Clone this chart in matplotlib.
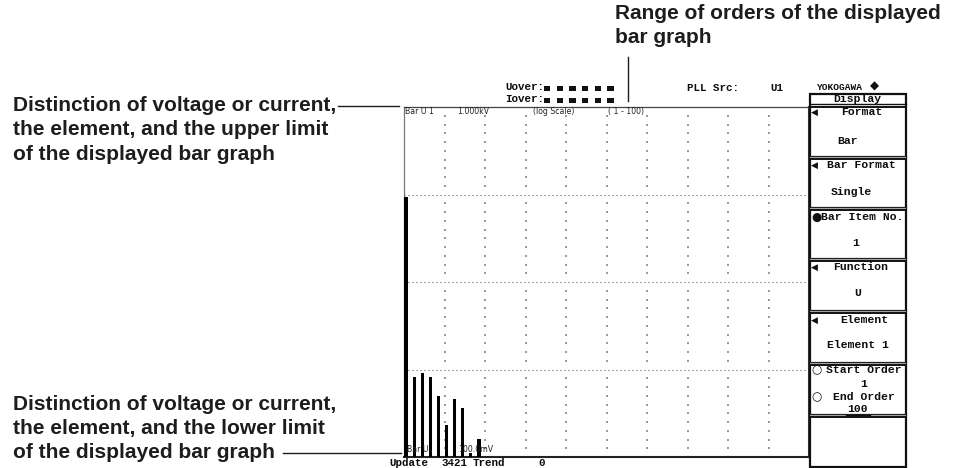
import matplotlib
matplotlib.use('Agg')
import matplotlib.pyplot as plt
from matplotlib.patches import Rectangle

# ---------------- data ----------------
orders = [1, 3, 5, 7, 9, 11, 13, 15, 17, 19]
values_v = [94.4, 0.83, 0.91, 0.82, 0.50, 0.23, 0.46, 0.36, 0.11, 0.16]
y_lower, y_upper = 0.1, 1000.0
order_start, order_end = 1, 100

upper_note = ["Distinction of voltage or current,",
              "the element, and the upper limit",
              "of the displayed bar graph"]
lower_note = ["Distinction of voltage or current,",
              "the element, and the lower limit",
              "of the displayed bar graph"]
range_note = ["Range of orders of the displayed", "bar graph"]

W, H = 958, 468
fig = plt.figure(figsize=(W / 100, H / 100), dpi=100)
fig.patch.set_facecolor('white')

# ---------------- bar graph axes ----------------
L, R, T, B = 404, 809, 107, 457
ax = fig.add_axes([L / W, 1 - B / H, (R - L) / W, (B - T) / H])
ax.set_yscale('log')
ax.set_ylim(y_lower, y_upper)
ax.set_xlim(order_start - 0.5, order_end + 0.5)
ax.bar(orders, [v - y_lower for v in values_v], bottom=y_lower, width=0.78,
       color='black', zorder=3)
ax.set_xticks([]); ax.set_yticks([])
ax.minorticks_off()
ax.tick_params(which='both', length=0)
for dec in [1, 10, 100]:
    ax.axhline(dec, color='#666666', lw=0.8, ls=(0, (1, 2.6)), zorder=1)
cols = [order_start - 0.5 + 10 * k for k in range(1, 10)]
dots_y = [10 ** (j / 10) for j in range(-9, 30) if j % 10 != 0]
xs, ys = [], []
for c in cols:
    for yy in dots_y:
        xs.append(c); ys.append(yy)
ax.scatter(xs, ys, s=0.7, marker='s', color='#9a9a9a', linewidths=0, zorder=1)
ax.spines['top'].set_color('#444444'); ax.spines['top'].set_linewidth(0.9)
ax.spines['left'].set_color('#777777'); ax.spines['left'].set_linewidth(0.9)
ax.spines['bottom'].set_color('#222222'); ax.spines['bottom'].set_linewidth(1.5)
ax.spines['right'].set_color('#333333'); ax.spines['right'].set_linewidth(1.5)

# ---------------- overlay in pixel coordinates ----------------
ov = fig.add_axes([0, 0, 1, 1])
ov.set_xlim(0, W); ov.set_ylim(H, 0)
ov.axis('off')
ov.patch.set_alpha(0)

ink = '#1e1c1d'
sans = 'Liberation Sans'
mono = 'Liberation Mono'

# annotations
for i, line in enumerate(upper_note):
    ov.text(13, 110.7 + 24.7 * i, line, fontsize=15, fontweight='bold',
            family=sans, va='baseline', ha='left', color=ink)
ov.plot([338, 399], [105.5, 105.5], color=ink, lw=1)
for i, line in enumerate(lower_note):
    ov.text(13, 410 + 24 * i, line, fontsize=15, fontweight='bold',
            family=sans, va='baseline', ha='left', color=ink)
ov.plot([283, 401], [453, 453], color=ink, lw=1)
for i, line in enumerate(range_note):
    ov.text(615, 19.3 + 24 * i, line, fontsize=15, fontweight='bold',
            family=sans, va='baseline', ha='left', color=ink)
ov.plot([628, 628], [57, 101], color=ink, lw=1)

# text inside the graph
small = dict(fontsize=5.6, family='DejaVu Sans', va='center', ha='left', color='#222222')
ov.text(405, 111.5, "Bar U 1", **small)
ov.text(457, 111.5, "1.000kV", **small)
ov.text(533, 111.5, "(log Scale)", **small)
ov.text(608, 111.5, "( 1 - 100)", **small)
ov.text(407, 449.5, "Bar U", **small)
ov.text(458, 449.5, "100.0mV", **small)

scr = dict(family=mono, fontweight='bold', va='center', color='#0d0d0d')
ov.text(389, 462.5, "Update", fontsize=7.8, ha='left', **scr)
ov.text(442, 462.5, "3421", fontsize=7.8, ha='left', **scr)
ov.text(473, 462.5, "Trend", fontsize=7.8, ha='left', **scr)
ov.text(538, 462.5, "0", fontsize=7.8, ha='left', **scr)

# status texts on top
ov.text(505, 87.5, "Uover:", fontsize=7.8, ha='left', **scr)
ov.text(505, 99.5, "Iover:", fontsize=7.8, ha='left', **scr)
for row_y in [88.5, 100.5]:
    for k in range(6):
        ov.add_patch(Rectangle((544 + 12.7 * k, row_y - 2.2), 6.3, 4.4,
                               color='#111111', lw=0))
ov.text(687, 88, "PLL Src:", fontsize=7.8, ha='left', **scr)
ov.text(770, 88, "U1", fontsize=7.8, ha='left', **scr)
ov.text(816, 87, "YOKOGAWA", fontsize=6.8, ha='left', **scr)
ov.text(874, 86.5, "◆", fontsize=8.5, ha='center', va='center',
        family='DejaVu Sans', color='#111111')

# right panel (soft keys)
px0, px1 = 810, 906
ov.add_patch(Rectangle((px0, 94), px1 - px0, 467 - 94, fill=False,
                       ec='#111111', lw=1.6))
ov.plot([px0, px1], [104.3, 104.3], color='#111111', lw=1)
ov.text(857.5, 99.5, "Display", fontsize=8.2, ha='center', **scr)
seps = [106.5, 158.5, 209.5, 260.5, 312.5, 364.5, 416.5]
for s in seps:
    ov.plot([px0, px1], [s, s], color='#111111', lw=1.4)
    if s > 110:
        ov.add_patch(Rectangle((px0, s - 2.0), px1 - px0, 1.6, color='#b5b5b5', lw=0))
        ov.plot([px0, px1], [s - 2.4, s - 2.4], color='#222222', lw=0.9)

icon = dict(family='DejaVu Sans', va='center', color='#111111')
keys = [("◀", "Format", 862, 112, "Bar", 848, 141),
        ("◀", "Bar Format", 861.5, 165, "Single", 851.5, 192),
        ("●", "Bar Item No.", 862, 217, "1", 856, 243),
        ("◀", "Function", 861, 267.5, "U", 857.5, 293.5),
        ("◀", "Element", 864, 320, "Element 1", 858, 345.5)]
for ic, title, tx, ty, val, vx, vy in keys:
    if ic == "◀":
        ov.text(811, ty, ic, fontsize=6.5, ha='left', **icon)
    else:
        ov.text(816, ty, ic, fontsize=8.5, ha='center', **icon)
    ov.text(tx, ty, title, fontsize=8.2, ha='center', **scr)
    ov.text(vx, vy, val, fontsize=8.2, ha='center', **scr)

ov.text(817, 370, "○", fontsize=8.5, ha='center', **icon)
ov.text(864, 370, "Start Order", fontsize=8.2, ha='center', **scr)
ov.text(864, 384, str(order_start), fontsize=8.2, ha='center', **scr)
ov.text(817, 397, "○", fontsize=8.5, ha='center', **icon)
ov.text(864, 397, "End Order", fontsize=8.2, ha='center', **scr)
ov.text(858, 409.5, str(order_end), fontsize=8.2, ha='center', **scr)
ov.plot([846, 870], [414.5, 414.5], color='#111111', lw=1)

fig.savefig('out.png', dpi=100, facecolor='white')
